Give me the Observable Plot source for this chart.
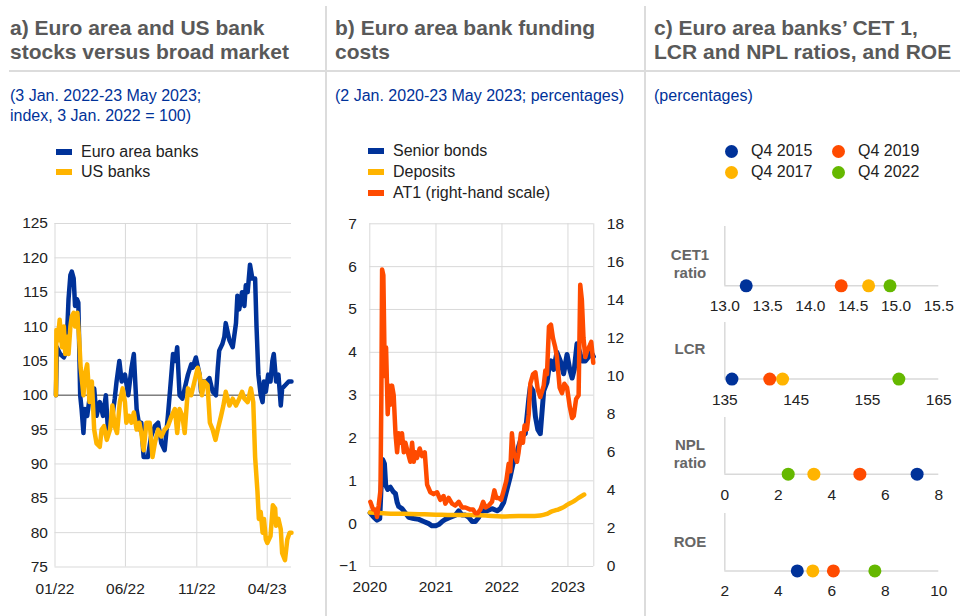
<!DOCTYPE html>
<html>
<head>
<meta charset="utf-8">
<script src="https://cdn.jsdelivr.net/npm/d3@7"></script>
<script src="https://cdn.jsdelivr.net/npm/@observablehq/plot@0.6"></script>
<style>
  html, body { margin: 0; padding: 0; background: #fff; }
  body { width: 960px; height: 616px; position: relative; overflow: hidden; font-family: "Liberation Sans", Arial, sans-serif; }
  .abs { position: absolute; white-space: nowrap; }
  .title { font-size: 21px; line-height: 24px; font-weight: bold; color: #595959; }
  .sub { font-size: 16px; line-height: 20px; color: #003299; }
  .leg { font-size: 16px; line-height: 20px; color: #222; }
  .mark { position: absolute; width: 16px; height: 6px; }
  .dotm { position: absolute; width: 13px; height: 13px; border-radius: 50%; }
  .rowlab { font-size: 15px; line-height: 18px; font-weight: bold; color: #666; text-align: center; width: 80px; }
  .vsep { position: absolute; top: 6px; width: 2px; height: 610px; background: #dcdcdc; }
  .hsep { position: absolute; left: 9px; top: 70px; width: 951px; height: 2px; background: #dcdcdc; }
  .plot { position: absolute; }
</style>
</head>
<body>
<div class="vsep" style="left:325px"></div>
<div class="vsep" style="left:644px"></div>
<div class="hsep"></div>

<div class="abs title" style="left:10px; top:16px">a) Euro area and US bank<br>stocks versus broad market</div>
<div class="abs title" style="left:335px; top:16px">b) Euro area bank funding<br>costs</div>
<div class="abs title" style="left:654px; top:16px">c) Euro area banks’ CET 1,<br>LCR and NPL ratios, and ROE</div>

<div class="abs sub" style="left:10px; top:86px">(3 Jan. 2022-23 May 2023;<br>index, 3 Jan. 2022 = 100)</div>
<div class="abs sub" style="left:335px; top:86px">(2 Jan. 2020-23 May 2023; percentages)</div>
<div class="abs sub" style="left:654px; top:86px">(percentages)</div>

<div id="legA"></div>
<div id="legB"></div>
<div id="legC"></div>

<div id="panelA" class="plot" style="left:0px; top:205px"></div>
<div id="panelB1" class="plot" style="left:320px; top:205px"></div>
<div id="panelB2" class="plot" style="left:320px; top:205px; pointer-events:none"></div>
<div id="panelC"></div>

<script>
// ---------- Panel a data ----------
const aEuroDates = ["2022-01-03","2022-01-05","2022-01-12","2022-01-20","2022-01-23","2022-01-27","2022-01-30","2022-02-03","2022-02-06","2022-02-10",
"2022-02-13","2022-02-17","2022-02-20","2022-02-24","2022-02-27","2022-03-03","2022-03-06","2022-03-11","2022-03-17","2022-03-21",
"2022-03-26","2022-03-31","2022-04-07","2022-04-14","2022-04-20","2022-04-25","2022-05-02","2022-05-09","2022-05-13","2022-05-19",
"2022-05-24","2022-05-31","2022-06-07","2022-06-14","2022-06-19","2022-06-25","2022-07-02","2022-07-05","2022-07-10","2022-07-19",
"2022-07-26","2022-08-03","2022-08-10","2022-08-17","2022-08-24","2022-08-31","2022-09-05","2022-09-11","2022-09-16","2022-09-20",
"2022-09-25","2022-10-01","2022-10-06","2022-10-13","2022-10-20","2022-10-23","2022-10-30","2022-11-07","2022-11-10","2022-11-15",
"2022-11-22","2022-11-28","2022-12-05","2022-12-12","2022-12-16","2022-12-19","2022-12-26","2022-12-30","2023-01-02","2023-01-10",
"2023-01-17","2023-01-24","2023-01-27","2023-01-31","2023-02-06","2023-02-11","2023-02-14","2023-02-18","2023-02-23","2023-02-28",
"2023-03-06","2023-03-09","2023-03-13","2023-03-18","2023-03-22","2023-03-25","2023-03-29","2023-04-03","2023-04-08","2023-04-12",
"2023-04-15","2023-04-20","2023-04-25","2023-04-30","2023-05-03","2023-05-10","2023-05-17","2023-05-23"];
const aEuroValues = [100,107,106,105.5,106,109,114,117.5,118,117,
113,114,113.5,100,98,94.5,98,97,100,101,
101,97,99,97,100,94.5,96,99.5,102,105,
102,103,100,104,106,98,95,96,91,91,
94,95.5,96,93,92,97,101,106,105,107,
100,99.5,101,103,104.5,104,105.5,103,100.5,102,
102,102.5,100.5,100,104,106.5,107.5,108.5,110.5,108,
107,110.5,114.5,112.5,115,113,116,115,119,117,
117,110,103,100,99,102,100.5,103,102,105,
106,102,103,98.5,101,101.5,102,102];

const aUSDates = ["2022-01-03","2022-01-04","2022-01-07","2022-01-11","2022-01-16","2022-01-20","2022-01-23","2022-01-27","2022-01-30","2022-02-03",
"2022-02-06","2022-02-10","2022-02-13","2022-02-18","2022-02-22","2022-02-25","2022-03-03","2022-03-06","2022-03-11","2022-03-16",
"2022-03-21","2022-03-26","2022-03-31","2022-04-07","2022-04-11","2022-04-16","2022-04-22","2022-04-29","2022-05-04","2022-05-09",
"2022-05-14","2022-05-20","2022-05-26","2022-05-31","2022-06-03","2022-06-09","2022-06-14","2022-06-19","2022-06-25","2022-07-01",
"2022-07-05","2022-07-10","2022-07-16","2022-07-23","2022-07-29","2022-08-03","2022-08-10","2022-08-17","2022-08-24","2022-08-31",
"2022-09-08","2022-09-15","2022-09-20","2022-09-25","2022-10-01","2022-10-06","2022-10-13","2022-10-20","2022-10-27","2022-11-03",
"2022-11-07","2022-11-12","2022-11-17","2022-11-24","2022-11-29","2022-12-05","2022-12-11","2022-12-16","2022-12-23","2022-12-28",
"2023-01-02","2023-01-10","2023-01-17","2023-01-24","2023-01-31","2023-02-06","2023-02-11","2023-02-18","2023-02-25","2023-03-02",
"2023-03-06","2023-03-11","2023-03-14","2023-03-18","2023-03-22","2023-03-25","2023-03-29","2023-04-01","2023-04-08","2023-04-13",
"2023-04-18","2023-04-20","2023-04-25","2023-04-30","2023-05-03","2023-05-09","2023-05-14","2023-05-19","2023-05-23"];
const aUSValues = [100,109.5,108,111,107,110,106,108.5,106,110,
111.5,112,110,112,108,104,100,103,104.5,99,
102,95,93,92.5,95,95.5,93.5,95,98.5,95.5,
94.5,99,101,99,96,97,96,97.5,95,96,
94.5,92,96,96,91,93,95,94,95,95.5,
97,98,94.5,98,97,94.5,101,100,102,104,
103,100,102,101.5,96,95,93.5,95,97,98.5,
100.5,98.5,99.5,98.5,99.5,100.5,99.5,99,101,99,
91,86,82,83,80,82,79,78.5,79.5,84,
83.5,81,82,80.5,77,76,79,80,80];

const aYTicks = [75,80,85,90,95,100,105,110,115,120,125];
const aXTicks = ["2022-01-01","2022-06-01","2022-11-01","2023-04-01"];
const aDomain = ["2022-01-01","2023-05-23"];

// ---------- Panel b data ----------
const bSeniorDates = ["2020-01-03","2020-01-23","2020-02-10","2020-02-25","2020-03-03","2020-03-12","2020-03-22","2020-03-29","2020-04-09","2020-04-24",
"2020-05-09","2020-05-22","2020-05-31","2020-06-09","2020-06-27","2020-07-16","2020-08-03","2020-08-31","2020-09-28","2020-10-25",
"2020-11-22","2020-12-10","2020-12-29","2021-01-16","2021-02-04","2021-02-22","2021-03-22","2021-04-19","2021-05-07","2021-05-25",
"2021-06-13","2021-07-01","2021-07-20","2021-08-07","2021-08-26","2021-09-13","2021-10-11","2021-11-07","2021-12-05","2021-12-23",
"2022-01-11","2022-01-29","2022-02-16","2022-03-03","2022-03-16","2022-04-03","2022-04-22","2022-05-10","2022-05-29","2022-06-07",
"2022-06-22","2022-07-05","2022-07-18","2022-08-01","2022-08-20","2022-09-07","2022-09-17","2022-09-29","2022-10-14","2022-11-01",
"2022-11-20","2022-12-08","2022-12-27","2023-01-11","2023-01-24","2023-02-05","2023-02-20","2023-03-07","2023-03-20","2023-04-07",
"2023-04-26","2023-05-09","2023-05-22"];
const bSeniorValues = [0.25,0.15,0.08,0.12,0.8,1.5,1.4,0.9,0.8,0.85,
0.75,0.7,0.5,0.4,0.35,0.25,0.15,0.12,0.1,0.05,
0.0,-0.05,-0.05,-0.02,0.05,0.1,0.15,0.2,0.3,0.2,
0.2,0.15,0.05,0.05,0.15,0.3,0.3,0.35,0.3,0.35,
0.5,0.8,1.1,1.4,1.5,1.8,2.05,2.1,2.9,3.2,
3.1,2.5,2.2,2.1,3.1,3.3,3.6,3.8,3.6,4.0,
3.8,3.5,3.95,3.6,3.4,3.6,4.2,4.0,3.8,3.8,
3.9,4.0,3.9];

const bDepositDates = ["2020-01-01","2020-04-01","2020-07-01","2020-10-01","2021-01-01","2021-04-01","2021-07-01","2021-10-01","2022-01-01","2022-04-01",
"2022-07-01","2022-08-01","2022-09-01","2022-10-01","2022-11-01","2022-12-01","2023-01-01","2023-02-01","2023-03-01","2023-04-01"];
const bDepositValues = [0.26,0.24,0.23,0.22,0.21,0.2,0.2,0.19,0.17,0.18,
0.18,0.19,0.22,0.28,0.32,0.37,0.45,0.52,0.6,0.68];

const bAT1Dates = ["2020-01-04","2020-01-19","2020-02-01","2020-02-10","2020-02-19","2020-02-29","2020-03-05","2020-03-09","2020-03-16","2020-03-24",
"2020-03-31","2020-04-09","2020-04-17","2020-04-24","2020-05-03","2020-05-12","2020-05-22","2020-05-31","2020-06-09","2020-06-18",
"2020-06-27","2020-07-07","2020-07-16","2020-07-29","2020-08-12","2020-08-22","2020-08-31","2020-09-09","2020-09-18","2020-10-03",
"2020-10-16","2020-10-31","2020-11-13","2020-12-01","2020-12-19","2021-01-07","2021-01-25","2021-02-12","2021-02-22","2021-03-12",
"2021-03-31","2021-04-18","2021-05-07","2021-05-25","2021-06-13","2021-07-07","2021-07-25","2021-08-07","2021-08-20","2021-09-04",
"2021-09-19","2021-10-02","2021-10-20","2021-11-07","2021-11-20","2021-12-01","2021-12-14","2021-12-27","2022-01-11","2022-01-25",
"2022-02-07","2022-02-16","2022-02-25","2022-03-07","2022-03-25","2022-04-03","2022-04-16","2022-04-27","2022-05-06","2022-05-19",
"2022-05-29","2022-06-07","2022-06-22","2022-07-05","2022-07-18","2022-08-01","2022-08-20","2022-08-29","2022-09-07","2022-09-18",
"2022-09-29","2022-10-10","2022-10-23","2022-11-01","2022-11-16","2022-11-29","2022-12-12","2022-12-27","2023-01-11","2023-01-24",
"2023-02-02","2023-02-15","2023-03-01","2023-03-10","2023-03-19","2023-03-28","2023-04-07","2023-04-16","2023-05-01","2023-05-10",
"2023-05-21"];
const bAT1Values = [3.4,3.0,3.0,2.6,3.2,4.0,9.0,15.6,15.3,10.0,
11.5,8.0,9.5,8.5,9.5,9.0,7.0,6.0,7.0,6.5,
7.0,6.0,6.5,6.0,5.5,6.5,5.5,6.0,5.7,6.2,
5.8,6.0,4.3,3.9,3.8,3.9,3.5,3.7,3.3,3.6,
3.3,3.2,3.4,3.1,3.1,3.0,3.0,2.8,2.8,3.0,
3.4,3.1,3.2,3.4,4.0,3.6,3.6,3.5,4.0,4.5,
5.4,5.0,7.0,6.0,5.5,6.0,7.0,6.5,7.4,7.2,
8.0,9.6,10.1,10.2,9.3,8.9,9.5,10.3,10.1,12.6,
12.7,12.0,11.5,11.0,9.4,9.1,9.6,9.4,8.4,7.8,
7.9,8.8,9.0,14.8,14.0,12.0,11.0,11.3,11.6,11.8,
10.7];

const bLeftTicks = [-1,0,1,2,3,4,5,6,7];
const bRightTicks = [0,2,4,6,8,10,12,14,16,18];
const bXTicks = ["2020-01-01","2021-01-01","2022-01-01","2023-01-01"];
const bDomain = ["2020-01-01","2023-05-24"];

// ---------- Panel c data ----------
const cQuarters = ["Q4 2015","Q4 2017","Q4 2019","Q4 2022"];
const cColors = ["#003299","#FFB400","#FF4B00","#65B800"];
const cCET1 = [13.25, 14.68, 14.36, 14.93];
const cLCR = [136.0, 143.1, 141.3, 159.4];
const cNPL = [7.19, 3.33, 5.05, 2.37];
const cROE = [4.71, 5.29, 6.06, 7.61];
const cCET1Ticks = [13.0, 13.5, 14.0, 14.5, 15.0, 15.5];
const cLCRTicks = [135, 145, 155, 165];
const cNPLTicks = [0, 2, 4, 6, 8];
const cROETicks = [2, 4, 6, 8, 10];

// ---------- helpers ----------
const FONT = "'Liberation Sans', Arial, sans-serif";
const baseStyle = {fontFamily: FONT, fontSize: "15.5px", color: "#222", background: "transparent", overflow: "visible"};
const toRows = (dates, values) => dates.map((d, i) => ({date: new Date(d), value: values[i]}));
const grid = "#d9d9d9";

function legendLines(containerId, items) {
  const c = document.getElementById(containerId);
  items.forEach(it => {
    const m = document.createElement("div");
    m.className = "mark";
    m.style.left = it.mx + "px"; m.style.top = (it.cy - 3) + "px"; m.style.background = it.color;
    c.appendChild(m);
    const t = document.createElement("div");
    t.className = "abs leg";
    t.style.left = it.tx + "px"; t.style.top = (it.cy - 10) + "px";
    t.textContent = it.label;
    c.appendChild(t);
  });
}

// ---------- Panel a ----------
legendLines("legA", [
  {label: "Euro area banks", color: "#003299", mx: 56, tx: 81, cy: 152},
  {label: "US banks", color: "#FFB400", mx: 56, tx: 81, cy: 172}
]);

const aEuro = toRows(aEuroDates, aEuroValues);
const aUS = toRows(aUSDates, aUSValues);
const aXT = aXTicks.map(d => new Date(d));

document.getElementById("panelA").appendChild(Plot.plot({
  width: 310, height: 400,
  marginLeft: 54.5, marginRight: 19, marginTop: 18, marginBottom: 38.5,
  style: baseStyle,
  x: {type: "utc", domain: aDomain.map(d => new Date(d))},
  y: {domain: [75, 125]},
  marks: [
    Plot.gridY(aYTicks, {stroke: grid, strokeOpacity: 1, strokeWidth: 1}),
    Plot.gridX(aXT, {stroke: grid, strokeOpacity: 1, strokeWidth: 1}),
    Plot.ruleY([100], {stroke: "#808080", strokeWidth: 1.5}),
    Plot.lineY(aEuro, {x: "date", y: "value", stroke: "#003299", strokeWidth: 4.5, strokeLinejoin: "round"}),
    Plot.lineY(aUS, {x: "date", y: "value", stroke: "#FFB400", strokeWidth: 4.5, strokeLinejoin: "round"}),
    Plot.axisY(aYTicks, {tickSize: 0, tickPadding: 7, label: null}),
    Plot.axisX(aXT, {tickSize: 0, tickPadding: 16, label: null, tickFormat: d3.utcFormat("%m/%y")})
  ]
}));

// ---------- Panel b ----------
legendLines("legB", [
  {label: "Senior bonds", color: "#003299", mx: 368, tx: 393, cy: 151},
  {label: "Deposits", color: "#FFB400", mx: 368, tx: 393, cy: 172},
  {label: "AT1 (right-hand scale)", color: "#FF4B00", mx: 368, tx: 393, cy: 193}
]);

const bSenior = toRows(bSeniorDates, bSeniorValues);
const bDeposit = toRows(bDepositDates, bDepositValues);
const bAT1 = toRows(bAT1Dates, bAT1Values);
const bXT = bXTicks.map(d => new Date(d));
const bDom = bDomain.map(d => new Date(d));
const bDims = {width: 320, height: 400, marginLeft: 49.3, marginRight: 46.7, marginTop: 18.3, marginBottom: 39};

document.getElementById("panelB1").appendChild(Plot.plot({
  ...bDims,
  style: baseStyle,
  x: {type: "utc", domain: bDom},
  y: {domain: [-1, 7]},
  marks: [
    Plot.gridY(bLeftTicks, {stroke: grid, strokeOpacity: 1}),
    Plot.gridX(bXT, {stroke: grid, strokeOpacity: 1}),
    Plot.ruleX([bDom[1]], {stroke: grid}),
    Plot.lineY(bSenior, {x: "date", y: "value", stroke: "#003299", strokeWidth: 5, strokeLinejoin: "round"}),
    Plot.lineY(bDeposit, {x: "date", y: "value", stroke: "#FFB400", strokeWidth: 4.5, curve: "monotone-x"}),
    Plot.axisY(bLeftTicks, {tickSize: 0, tickPadding: 13, label: null}),
    Plot.axisX(bXT, {tickSize: 0, tickPadding: 14.5, label: null, tickFormat: d3.utcFormat("%Y")})
  ]
}));

document.getElementById("panelB2").appendChild(Plot.plot({
  ...bDims,
  style: baseStyle,
  x: {type: "utc", domain: bDom, axis: null},
  y: {domain: [0, 18], axis: null},
  marks: [
    Plot.lineY(bAT1, {x: "date", y: "value", stroke: "#FF4B00", strokeWidth: 4.5, strokeLinejoin: "round"}),
    Plot.axisY(bRightTicks, {anchor: "right", tickSize: 0, tickPadding: 13, label: null})
  ]
}));

// ---------- Panel c ----------
const legC = document.getElementById("legC");
[
  {i: 0, cx: 731, cy: 151, tx: 751},
  {i: 2, cx: 838, cy: 151, tx: 858},
  {i: 1, cx: 731, cy: 172, tx: 751},
  {i: 3, cx: 838, cy: 172, tx: 858}
].forEach(p => {
  const d = document.createElement("div");
  d.className = "dotm";
  d.style.left = (p.cx - 6.5) + "px"; d.style.top = (p.cy - 6.5) + "px"; d.style.background = cColors[p.i];
  legC.appendChild(d);
  const t = document.createElement("div");
  t.className = "abs leg";
  t.style.left = p.tx + "px"; t.style.top = (p.cy - 10) + "px";
  t.textContent = cQuarters[p.i];
  legC.appendChild(t);
});

const cPanels = [
  {values: cCET1, ticks: cCET1Ticks, fmt: d3.format(".1f"), top: 226, axis: 285.3, label: "CET1<br>ratio", labY: 263.8},
  {values: cLCR, ticks: cLCRTicks, fmt: d3.format("d"), top: 321.7, axis: 378.3, label: "LCR", labY: 349},
  {values: cNPL, ticks: cNPLTicks, fmt: d3.format("d"), top: 417.3, axis: 474, label: "NPL<br>ratio", labY: 454},
  {values: cROE, ticks: cROETicks, fmt: d3.format("d"), top: 513.3, axis: 570.7, label: "ROE", labY: 541.7}
];
const panelC = document.getElementById("panelC");
cPanels.forEach(p => {
  const mt = 6, mb = 30;
  const h = p.axis - p.top + mt + mb;
  const rows = cQuarters.map((q, i) => ({quarter: q, value: p.values[i]}));
  const div = document.createElement("div");
  div.className = "plot";
  div.style.left = "645px"; div.style.top = (p.top - mt) + "px";
  div.appendChild(Plot.plot({
    width: 315, height: h,
    marginLeft: 79.3, marginRight: 21.7, marginTop: mt, marginBottom: mb,
    style: baseStyle,
    x: {domain: [p.ticks[0], p.ticks[p.ticks.length - 1]]},
    y: {domain: [0, 1], axis: null},
    color: {domain: cQuarters, range: cColors},
    marks: [
      Plot.ruleX([p.ticks[0]], {stroke: grid, strokeWidth: 1.5}),
      Plot.ruleY([0], {stroke: grid, strokeWidth: 1.5}),
      Plot.dot(rows, {x: "value", y: () => 0, r: 6.5, fill: "quarter", stroke: "none"}),
      Plot.axisX(p.ticks, {tickSize: 0, tickPadding: 14.5, label: null, tickFormat: p.fmt})
    ]
  }));
  panelC.appendChild(div);
  const lab = document.createElement("div");
  lab.className = "abs rowlab";
  const lines = p.label.split("<br>").length;
  lab.style.left = "650px";
  lab.style.top = (p.labY - lines * 9) + "px";
  lab.innerHTML = p.label;
  panelC.appendChild(lab);
});
</script>
</body>
</html>
